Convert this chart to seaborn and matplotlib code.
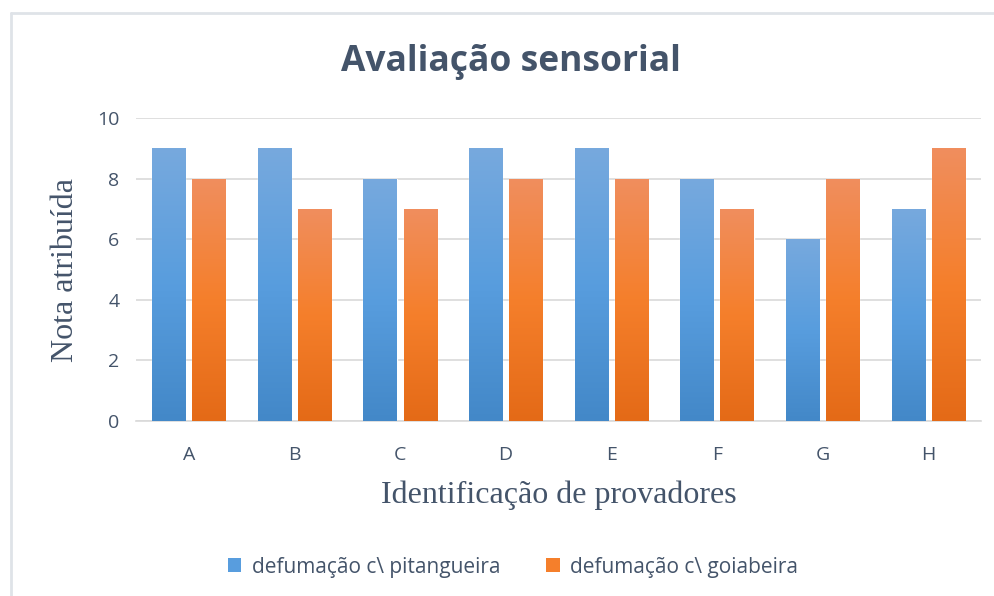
import numpy as np
import pandas as pd
import matplotlib
matplotlib.use("Agg")
import matplotlib.pyplot as plt
import seaborn as sns
from matplotlib.patches import Rectangle
from matplotlib.lines import Line2D
from matplotlib.colors import LinearSegmentedColormap, to_rgb

# ---- data ----
provadores = ["A", "B", "C", "D", "E", "F", "G", "H"]
pitangueira = [9, 9, 8, 9, 9, 8, 6, 7]
goiabeira = [8, 7, 7, 8, 8, 7, 8, 9]
series_names = ["defumação c\\ pitangueira", "defumação c\\ goiabeira"]
yticks = [0, 2, 4, 6, 8, 10]

df = pd.DataFrame({
    "Provador": provadores * 2,
    "Nota": pitangueira + goiabeira,
    "Serie": [series_names[0]] * len(provadores) + [series_names[1]] * len(provadores),
})

TXT = "#44546a"
GRID = "#d9d9d9"
base_colors = ["#5b9bd5", "#ed7d31"]
grads = {
    0: ["#77a9dd", "#589dde", "#4388c8"],
    1: ["#f08e5e", "#f57f2b", "#e46a17"],
}

sns.set_theme(style="white")
plt.rcParams['font.family'] = ['Open Sans', 'DejaVu Sans']

fig = plt.figure(figsize=(9.95, 5.96), dpi=100)
ax = fig.add_axes([136 / 995, 1 - 421 / 596, (981 - 136) / 995, (421 - 118) / 596])

sns.barplot(data=df, x="Provador", y="Nota", hue="Serie", palette=base_colors,
            width=0.76, gap=0.175, saturation=1, ax=ax, legend=False, zorder=2)

# gradient fill clipped to each bar
for p in list(ax.patches):
    fc = p.get_facecolor()[:3]
    d0 = np.linalg.norm(np.array(fc) - np.array(to_rgb(base_colors[0])))
    d1 = np.linalg.norm(np.array(fc) - np.array(to_rgb(base_colors[1])))
    idx = 0 if d0 < d1 else 1
    cmap = LinearSegmentedColormap.from_list(f"g{idx}", grads[idx])
    x, y = p.get_x(), p.get_y()
    w, h = p.get_width(), p.get_height()
    if h <= 0:
        continue
    grad = np.linspace(0, 1, 256).reshape(-1, 1)
    im = ax.imshow(grad, cmap=cmap, aspect="auto", origin="upper",
                   extent=[x, x + w, y, y + h], zorder=3)
    im.set_clip_path(p)

ax.set_xlim(-0.5, len(provadores) - 0.5)
ax.set_ylim(0, 10)
ax.set_yticks(yticks)
ax.yaxis.grid(True, color=GRID, lw=1.2, zorder=0)
ax.set_axisbelow(True)
for s in ["top", "right", "left"]:
    ax.spines[s].set_visible(False)
ax.spines["bottom"].set_color(GRID)
ax.spines["bottom"].set_linewidth(1.2)
ax.tick_params(axis="both", length=0, colors=TXT, labelsize=14)
ax.tick_params(axis="x", pad=18)
ax.tick_params(axis="y", pad=12)

ax.set_ylabel("Nota atribuída", family=["Liberation Serif"], fontsize=23, color=TXT, labelpad=12)
ax.set_xlabel("Identificação de provadores", family=["Liberation Serif"], fontsize=23, color=TXT, labelpad=12)

fig.text(511 / 995, 1 - 62 / 596, "Avaliação sensorial", ha="center", va="center",
         fontsize=25.5, fontweight="bold", color=TXT)

handles = [Rectangle((0, 0), 1, 1, facecolor=grads[i][1], edgecolor="none") for i in range(2)]
fig.legend(handles, series_names, loc="center", bbox_to_anchor=(513 / 995, 1 - 567 / 596),
           ncol=2, frameon=False, fontsize=15, labelcolor=TXT,
           handlelength=0.65, handleheight=0.65, handletextpad=0.5, columnspacing=2.2)

# chart-area border (left and top edges visible)
fig.add_artist(Line2D([11 / 995, 11 / 995], [0, 1 - 13 / 596], transform=fig.transFigure,
                      color="#dfe3e8", lw=2))
fig.add_artist(Line2D([11 / 995, 1], [1 - 13 / 596, 1 - 13 / 596], transform=fig.transFigure,
                      color="#dfe3e8", lw=2))

fig.savefig("out.png", dpi=100)
